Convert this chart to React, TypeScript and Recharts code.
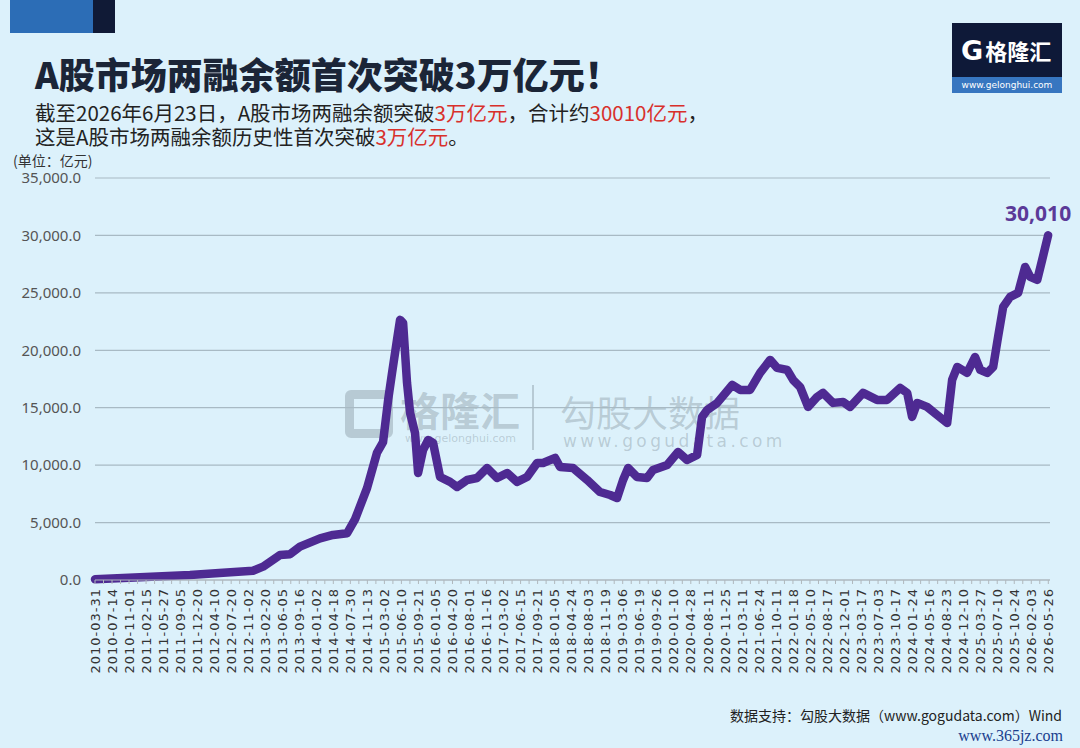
import { LineChart, Line, XAxis, YAxis, CartesianGrid, ReferenceDot } from 'recharts'

// x-axis labels, one per tick interval
const dateLabels = [
  '2010-03-31', '2010-07-14', '2010-11-01', '2011-02-15', '2011-05-27', '2011-09-05', '2011-12-20',
  '2012-04-10', '2012-07-20', '2012-11-02', '2013-02-20', '2013-06-05', '2013-09-16', '2014-01-02',
  '2014-04-18', '2014-07-30', '2014-11-13', '2015-03-02', '2015-06-10', '2015-09-21', '2016-01-05',
  '2016-04-20', '2016-08-01', '2016-11-16', '2017-03-02', '2017-06-15', '2017-09-21', '2018-01-05',
  '2018-04-24', '2018-08-03', '2018-11-19', '2019-03-06', '2019-06-19', '2019-09-26', '2020-01-10',
  '2020-04-28', '2020-08-11', '2020-11-25', '2021-03-11', '2021-06-24', '2021-10-11', '2022-01-18',
  '2022-05-10', '2022-08-17', '2022-12-01', '2023-03-17', '2023-07-03', '2023-10-17', '2024-01-24',
  '2024-05-16', '2024-08-23', '2024-12-10', '2025-03-27', '2025-07-10', '2025-10-24', '2026-02-03',
  '2026-05-26',
]

// position of each reading, measured in label intervals from 2010-03-31
const position = [
  0, 2.64, 5.58, 7.52, 9.28, 9.87, 10.87, 11.46, 12.04, 13.22, 13.98, 14.81, 15.28, 15.98,
  16.57, 16.92, 17.22, 17.45, 17.74, 17.92, 18.1, 18.33, 18.51, 18.8, 18.98, 19.27, 19.57, 19.86,
  20.27, 20.86, 21.27, 21.86, 22.44, 23.03, 23.62, 24.21, 24.79, 25.38, 25.97, 26.32, 27.03, 27.32,
  28.08, 28.91, 29.67, 30.26, 30.67, 31.02, 31.32, 31.84, 32.43, 32.78, 33.61, 34.25, 34.78, 35.37,
  35.66, 35.96, 36.55, 37.43, 37.9, 38.48, 39.07, 39.66, 40.07, 40.66, 41.01, 41.42, 41.89, 42.42,
  42.77, 43.36, 43.95, 44.36, 45.12, 45.94, 46.53, 47.3, 47.71, 48.0, 48.3, 48.88, 49.47, 50.06,
  50.35, 50.65, 51.23, 51.7, 52.0, 52.41, 52.76, 53.05, 53.35, 53.76, 54.23, 54.64, 54.94, 55.35,
  55.64, 55.99,
]

// 两融余额 (亿元)
const balance = [
  60, 230, 435, 640, 810, 1160, 2180, 2250, 2900, 3630, 3920, 4070, 5300, 8000,
  11100, 12000, 15680, 18030, 20900, 22650, 22380, 17160, 14550, 12800, 9320, 11320, 12190, 11930,
  8970, 8540, 8100, 8710, 8880, 9750, 8880, 9320, 8540, 8970, 10190, 10190, 10630, 9840,
  9750, 8710, 7660, 7400, 7140, 8710, 9750, 8970, 8880, 9580, 10020, 11150, 10450, 10890,
  14200, 14810, 15420, 16980, 16550, 16550, 18030, 19160, 18470, 18290, 17420, 16810, 15070, 15940,
  16290, 15420, 15500, 15070, 16290, 15680, 15680, 16720, 16290, 14200, 15420, 15070, 14370, 13670,
  17420, 18550, 18030, 19420, 18290, 18030, 18550, 21170, 23780, 24650, 25000, 27260, 26390, 26130,
  27870, 30010,
]

const yTicks = [0, 5000, 10000, 15000, 20000, 25000, 30000, 35000]

const BG = '#dcf1fb'
const PURPLE = '#4e2a92'
const RED = '#d8302b'

const chartData = position.map((t, i) => ({ t, value: balance[i] }))
const xTicks = dateLabels.flatMap((_, i) => (i < dateLabels.length - 1 ? [i, i + 0.5] : [i]))

const formatY = (v: number) =>
  v.toLocaleString('en-US', { minimumFractionDigits: 1, maximumFractionDigits: 1 })

const DateTick = ({ x, y, payload }: any) => {
  if (!Number.isInteger(payload.value)) return null
  return (
    <g transform={`translate(${x},${y})`}>
      <text
        transform="rotate(-90)"
        x={-2}
        y={0}
        dy="0.36em"
        textAnchor="end"
        fontSize={13}
        letterSpacing={1}
        fontFamily="DejaVu Sans, sans-serif"
        fill="#333"
      >
        {dateLabels[payload.value]}
      </text>
    </g>
  )
}

const LastLabel = ({ viewBox }: any) => (
  <text
    x={viewBox.x - 10}
    y={viewBox.y - 14}
    textAnchor="middle"
    fontSize={21}
    fontWeight={700}
    fontFamily="Noto Sans, sans-serif"
    fill="#5b3a98"
  >
    30,010
  </text>
)

const wm = 'rgba(110,125,135,0.33)'

export default function App() {
  return (
    <div
      style={{
        position: 'absolute',
        left: 0,
        top: 0,
        width: 1080,
        height: 748,
        background: BG,
        overflow: 'hidden',
        fontFamily: '"Noto Sans CJK SC", "Noto Sans", sans-serif',
      }}
    >
      {/* corner blocks */}
      <div style={{ position: 'absolute', left: 10, top: 0, width: 83, height: 33, background: '#2c6db6' }} />
      <div style={{ position: 'absolute', left: 93, top: 0, width: 22, height: 33, background: '#101a36' }} />

      {/* logo */}
      <div style={{ position: 'absolute', left: 952, top: 23, width: 110, height: 70 }}>
        <div style={{ height: 54, background: '#0e1938', display: 'flex', alignItems: 'center', paddingLeft: 9 }}>
          <span style={{ color: '#fff', fontSize: 27, fontWeight: 900, fontFamily: 'DejaVu Sans, sans-serif', lineHeight: 1 }}>G</span>
          <span style={{ color: '#fff', fontSize: 22, fontWeight: 700, marginLeft: 2, lineHeight: 1 }}>格隆汇</span>
        </div>
        <div style={{ height: 16, background: '#3776c0', color: '#fff', fontSize: 9, textAlign: 'center', lineHeight: '16px', fontFamily: 'DejaVu Sans, sans-serif' }}>
          www.gelonghui.com
        </div>
      </div>

      {/* title */}
      <div style={{ position: 'absolute', left: 35, top: 52, fontSize: 36, fontWeight: 900, color: '#1b2537', lineHeight: '42px' }}>
        A股市场两融余额首次突破3万亿元！
      </div>
      <div style={{ position: 'absolute', left: 35, top: 100, fontSize: 20.5, color: '#222', lineHeight: '24px' }}>
        <div>
          截至2026年6月23日，A股市场两融余额突破<span style={{ color: RED }}>3万亿元</span>，合计约
          <span style={{ color: RED }}>30010亿元</span>，
        </div>
        <div>
          这是A股市场两融余额历史性首次突破<span style={{ color: RED }}>3万亿元</span>。
        </div>
      </div>
      <div style={{ position: 'absolute', left: 13, top: 150, fontSize: 14, color: '#333' }}>(单位：亿元)</div>

      {/* watermark */}
      <div style={{ position: 'absolute', left: 345, top: 390, width: 48, height: 48, border: `9px solid ${wm}`, borderRadius: 6, boxSizing: 'border-box' }} />
      <div style={{ position: 'absolute', left: 400, top: 388, fontSize: 40, fontWeight: 700, color: wm, lineHeight: '42px' }}>格隆汇</div>
      <div style={{ position: 'absolute', left: 405, top: 432, fontSize: 11, color: wm, lineHeight: '13px', fontFamily: 'DejaVu Sans, sans-serif' }}>www.gelonghui.com</div>
      <div style={{ position: 'absolute', left: 532, top: 385, width: 2, height: 65, background: wm }} />
      <div style={{ position: 'absolute', left: 560, top: 392, fontSize: 36, color: wm, lineHeight: '38px' }}>勾股大数据</div>
      <div style={{ position: 'absolute', left: 563, top: 432, fontSize: 17, color: wm, letterSpacing: 3.4, lineHeight: '19px', fontFamily: 'DejaVu Sans, sans-serif' }}>www.gogudata.com</div>

      <div style={{ position: 'absolute', left: 0, top: 0 }}>
        <LineChart width={1080} height={748} data={chartData} margin={{ top: 178, right: 30, bottom: 68, left: 0 }}>
          <CartesianGrid horizontal vertical={false} stroke="#a8bac4" strokeWidth={1.2} />
          <XAxis
            dataKey="t"
            type="number"
            domain={[0, 56.1]}
            ticks={xTicks}
            interval={0}
            height={100}
            tick={<DateTick />}
            tickSize={4}
            tickLine={{ stroke: '#b0b8bd' }}
            axisLine={{ stroke: '#b0b8bd', strokeWidth: 1.2 }}
          />
          <YAxis
            domain={[0, 35000]}
            ticks={yTicks}
            width={95}
            tickFormatter={formatY}
            axisLine={false}
            tickLine={false}
            tickMargin={8}
            tick={{ fontSize: 15, fill: '#555', fontFamily: 'Noto Sans, sans-serif' }}
          />
          <Line
            type="linear"
            dataKey="value"
            stroke={PURPLE}
            strokeWidth={8.5}
            strokeLinejoin="round"
            strokeLinecap="round"
            dot={false}
            isAnimationActive={false}
          />
          <ReferenceDot x={55.99} y={30010} r={0} ifOverflow="visible" label={<LastLabel />} />
        </LineChart>
      </div>

      {/* footer */}
      <div style={{ position: 'absolute', right: 18, top: 705, fontSize: 14, color: '#222' }}>
        数据支持：勾股大数据（www.gogudata.com）Wind
      </div>
      <div style={{ position: 'absolute', right: 17, top: 727, fontSize: 16, color: '#1a3e8e', fontFamily: 'Liberation Serif, serif' }}>
        www.365jz.com
      </div>
    </div>
  )
}
